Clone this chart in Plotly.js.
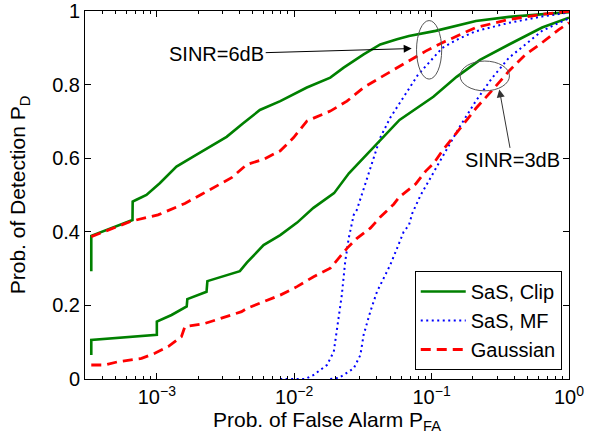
<!DOCTYPE html>
<html>
<head>
<meta charset="utf-8">
<script src="https://cdn.plot.ly/plotly-3.0.1.min.js"></script>
<style>
  html, body { margin: 0; padding: 0; background: #fff; }
  #plot { width: 590px; height: 445px; }
</style>
</head>
<body>
<div id="plot"></div>
<script>
// ROC curves: probability of detection vs probability of false alarm

// SINR = 6 dB
const pfaClip6 = [3.333e-4, 3.333e-4, 6.65e-4, 6.67e-4, 7.1e-4, 8.4e-4, 1.05e-3, 1.39e-3, 1.84e-3, 2.43e-3, 3.22e-3, 4.25e-3, 5.62e-3, 7.91e-3, 1.236e-2, 1.83e-2, 2.29e-2, 3.2e-2, 4.23e-2, 5.6e-2, 6.84e-2, 0.107, 0.21, 0.366, 0.637, 1.0];
const pdClip6  = [0.293, 0.389, 0.432, 0.482, 0.487, 0.50, 0.532, 0.577, 0.604, 0.631, 0.658, 0.695, 0.731, 0.755, 0.792, 0.819, 0.846, 0.882, 0.909, 0.923, 0.932, 0.946, 0.973, 0.984, 0.991, 0.997];

const pfaMF6 = [7.9e-3, 1.2e-2, 1.384e-2, 1.73e-2, 1.94e-2, 2.05e-2, 2.22e-2, 2.35e-2, 2.49e-2, 2.71e-2, 2.86e-2, 3.11e-2, 3.39e-2, 3.79e-2, 4.23e-2, 5.0e-2, 5.8e-2, 6.84e-2, 7.9e-2, 9.06e-2, 0.1197, 0.1585, 0.2096, 0.366, 0.637, 1.0];
const pdMF6  = [0, 0, 0.011, 0.038, 0.074, 0.138, 0.228, 0.319, 0.382, 0.446, 0.46, 0.502, 0.547, 0.601, 0.656, 0.71, 0.748, 0.79, 0.825, 0.85, 0.90, 0.925, 0.945, 0.968, 0.985, 0.996];

const pfaGauss6 = [3.333e-4, 6.54e-4, 1.02e-3, 1.6e-3, 2.12e-3, 3.5e-3, 4.52e-3, 5.98e-3, 7.91e-3, 9.9e-3, 1.236e-2, 1.83e-2, 2.42e-2, 3.2e-2, 4.23e-2, 5.6e-2, 6.84e-2, 9.06e-2, 0.1197, 0.2096, 0.366, 0.637, 1.0];
const pdGauss6  = [0.387, 0.429, 0.446, 0.477, 0.502, 0.547, 0.583, 0.597, 0.62, 0.656, 0.701, 0.728, 0.755, 0.792, 0.819, 0.846, 0.864, 0.891, 0.914, 0.955, 0.977, 0.991, 0.999];

// SINR = 3 dB
const pfaClip3 = [3.333e-4, 3.333e-4, 1.0e-3, 1.0e-3, 1.28e-3, 1.65e-3, 1.667e-3, 2.30e-3, 2.333e-3, 4.02e-3, 4.52e-3, 5.98e-3, 7.91e-3, 1.05e-2, 1.38e-2, 1.95e-2, 2.5e-2, 3.78e-2, 5.84e-2, 0.103, 0.152, 0.225, 0.2768, 0.366, 0.637, 1.0];
const pdClip3  = [0.065, 0.106, 0.12, 0.156, 0.174, 0.197, 0.217, 0.237, 0.266, 0.293, 0.316, 0.364, 0.391, 0.425, 0.465, 0.505, 0.559, 0.631, 0.704, 0.767, 0.821, 0.867, 0.885, 0.909, 0.955, 0.982];

const pfaMF3 = [1.83e-2, 2.1e-2, 2.29e-2, 2.71e-2, 3.03e-2, 3.20e-2, 3.58e-2, 4.0e-2, 4.48e-2, 5.0e-2, 5.6e-2, 6.26e-2, 6.84e-2, 7.23e-2, 8.33e-2, 0.1012, 0.1267, 0.1585, 0.2096, 0.2768, 0.366, 0.484, 0.637, 0.847, 1.0];
const pdMF3  = [0, 0.003, 0.011, 0.029, 0.065, 0.12, 0.183, 0.237, 0.274, 0.31, 0.355, 0.40, 0.418, 0.45, 0.5, 0.556, 0.62, 0.683, 0.755, 0.819, 0.873, 0.909, 0.946, 0.968, 0.98];

const pfaGauss3 = [3.333e-4, 4.18e-4, 5.22e-4, 7.74e-4, 9.67e-4, 1.21e-3, 1.51e-3, 1.60e-3, 2.24e-3, 3.13e-3, 4.14e-3, 4.52e-3, 5.98e-3, 7.91e-3, 1.047e-2, 1.384e-2, 1.83e-2, 2.42e-2, 2.86e-2, 3.58e-2, 4.23e-2, 5.3e-2, 5.84e-2, 7.66e-2, 9.06e-2, 0.103, 0.1197, 0.1585, 0.2096, 0.2768, 0.366, 0.484, 0.637, 0.847, 1.0];
const pdGauss3  = [0.038, 0.038, 0.047, 0.056, 0.070, 0.088, 0.115, 0.142, 0.151, 0.169, 0.183, 0.192, 0.210, 0.228, 0.251, 0.278, 0.301, 0.355, 0.382, 0.410, 0.440, 0.475, 0.495, 0.53, 0.565, 0.585, 0.62, 0.677, 0.735, 0.785, 0.837, 0.882, 0.914, 0.950, 0.968];

const seriesNames = ['SaS, Clip', 'SaS, MF', 'Gaussian'];
const xTickVals = [1e-3, 1e-2, 1e-1, 1];
const xTickText = ['10<sup>\u22123</sup>', '10<sup>\u22122</sup>', '10<sup>\u22121</sup>', '10<sup>0</sup>'];

const FONT = 'Liberation Sans, Arial, Helvetica, sans-serif';
const GREEN = '#008000', BLUE = '#0000ff', RED = '#ff0000';

const clipLine = { color: GREEN, width: 2.6 };
const mfLine = { color: BLUE, width: 2, dash: '2px,3.5px' };
const gaussLine = { color: RED, width: 2.8, dash: '10px,6px' };

const traces = [
  { x: pfaClip6, y: pdClip6, name: seriesNames[0], legendgroup: 'clip', line: clipLine },
  { x: pfaMF6, y: pdMF6, name: seriesNames[1], legendgroup: 'mf', line: mfLine },
  { x: pfaGauss6, y: pdGauss6, name: seriesNames[2], legendgroup: 'gauss', line: gaussLine },
  { x: pfaClip3, y: pdClip3, name: seriesNames[0], legendgroup: 'clip', showlegend: false, line: clipLine },
  { x: pfaMF3, y: pdMF3, name: seriesNames[1], legendgroup: 'mf', showlegend: false, line: mfLine },
  { x: pfaGauss3, y: pdGauss3, name: seriesNames[2], legendgroup: 'gauss', showlegend: false, line: gaussLine }
].map(t => Object.assign({ type: 'scatter', mode: 'lines', hoverinfo: 'skip' }, t));

// minor log ticks at 2..9 of every decade in view
const minorVals = [];
for (let d = -4; d < 0; d++) {
  for (let k = 2; k <= 9; k++) {
    const v = k * Math.pow(10, d);
    if (v >= 3e-4 && v <= 1) minorVals.push(v);
  }
}

const axisCommon = {
  showline: true, linecolor: '#000', linewidth: 1, mirror: 'ticks',
  ticks: 'inside', ticklen: 6, tickcolor: '#000', tickwidth: 1,
  showgrid: false, zeroline: false,
  tickfont: { family: FONT, size: 20, color: '#000' }
};

const layout = {
  width: 590, height: 445,
  margin: { l: 85, r: 21, t: 11, b: 66 },
  paper_bgcolor: '#fff', plot_bgcolor: '#fff',
  font: { family: FONT, color: '#000' },
  showlegend: true,
  xaxis: Object.assign({}, axisCommon, {
    type: 'log',
    range: [Math.log10(3e-4), 0],
    tickmode: 'array', tickvals: xTickVals, ticktext: xTickText,
    minor: { tickmode: 'array', tickvals: minorVals, ticks: 'inside', ticklen: 3, tickcolor: '#000', showgrid: false },
    title: { text: 'Prob. of False Alarm P<sub>FA</sub>', font: { family: FONT, size: 21, color: '#000' }, standoff: 3 }
  }),
  yaxis: Object.assign({}, axisCommon, {
    range: [0, 1], tickmode: 'linear', tick0: 0, dtick: 0.2,
    title: { text: 'Prob. of Detection P<sub>D</sub>', font: { family: FONT, size: 21, color: '#000' }, standoff: 20 }
  }),
  legend: {
    x: 0.985, y: 0.0245, xanchor: 'right', yanchor: 'bottom',
    bgcolor: '#fff', bordercolor: '#000', borderwidth: 1,
    font: { family: FONT, size: 20, color: '#000' },
    tracegroupgap: 0, itemwidth: 45
  },
  shapes: [
    { type: 'circle', xref: 'paper', yref: 'paper', x0: 0.685, x1: 0.737, y0: 0.815, y1: 0.974, line: { color: '#555', width: 1 } },
    { type: 'circle', xref: 'paper', yref: 'paper', x0: 0.775, x1: 0.877, y0: 0.783, y1: 0.864, line: { color: '#555', width: 1 } }
  ],
  annotations: [
    { xref: 'paper', yref: 'paper', x: 0.675, y: 0.898, ax: -195, ay: 5.5,
      text: 'SINR=6dB', showarrow: true, arrowhead: 2, arrowsize: 1.6, arrowwidth: 1, arrowcolor: '#000',
      font: { family: FONT, size: 20, color: '#000' } },
    { xref: 'paper', yref: 'paper', x: 0.856, y: 0.787, ax: 13, ay: 71,
      text: 'SINR=3dB', showarrow: true, arrowhead: 2, arrowsize: 1.6, arrowwidth: 1, arrowcolor: '#333',
      font: { family: FONT, size: 20, color: '#000' } }
  ]
};

Plotly.newPlot('plot', traces, layout, { staticPlot: true, displayModeBar: false });
</script>
</body>
</html>
